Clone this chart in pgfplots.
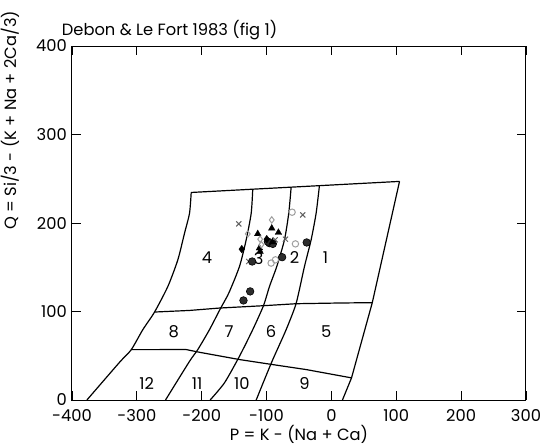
\documentclass[border=0pt]{standalone}
\usepackage{pgfplots}
\pgfplotsset{compat=1.18}
\usepackage{fontspec}
\setmainfont{Poppins}
\begin{document}
\begin{tikzpicture}[font=\fontsize{16.3}{19}\selectfont]
\path[use as bounding box] (-72pt,-45pt) rectangle (469pt,400pt);
\begin{axis}[
  scale only axis, width=454pt, height=354pt,
  xmin=-400, xmax=300, ymin=0, ymax=400,
  xtick={-400,-300,...,300}, ytick={0,100,...,400},
  tick align=inside, major tick length=9pt,
  tick style={black, line width=0.9pt},
  axis line style={line width=1pt},
  /pgf/number format/assume math mode=true,
  xticklabel style={yshift=-9pt, inner sep=0pt},
  yticklabel style={xshift=-5pt, inner sep=0pt},
  xlabel={P = K - (Na + Ca)},
  ylabel={Q = Si/3 - (K + Na + 2Ca/3)},
  xlabel style={at={(axis description cs:0.5,-0.098)}, anchor=center, inner sep=0pt},
  ylabel style={at={(axis description cs:-0.135,0.79)}, anchor=center, inner sep=0pt},
  clip=false,
]
% outer boundary
\addplot[black, line width=1.2pt] coordinates {(-216.2,234.5) (105,247)};
\addplot[black, line width=1.2pt] coordinates {(105,247) (63,110) (31,25) (17,0)};
\addplot[black, line width=1.2pt, smooth, tension=0.4] coordinates {(-216.2,234.5) (-218.8,211) (-226.5,188.5) (-236.8,158.4) (-252.2,128.3) (-272.7,99.4) (-290.8,79.5) (-308.6,56.9) (-326.7,42.6) (-377,0)};
% horizontal divisions
\addplot[black, line width=1.2pt] coordinates {(-272.7,99.4) (-218.8,101.2) (-172.6,103.9) (-105.9,106.5) (-54.4,108.8) (12.3,109.6) (63,110)};
\addplot[black, line width=1.2pt] coordinates {(-308.6,56.9) (-224,57) (-204,54) (-141.8,45.7) (-90.4,40) (-39,34.4) (31,25)};
% vertical curves
\addplot[black, line width=1.2pt, smooth, tension=0.4] coordinates {(-121.3,238.2) (-123.7,211) (-131.4,181) (-141.8,150.8) (-158.2,120.9) (-171.5,102.8) (-188,79.5) (-206,57) (-218.8,43.7) (-255.8,0)};
\addplot[black, line width=1.2pt, smooth, tension=0.4] coordinates {(-62.1,240.5) (-65.8,211) (-72.4,181) (-84.3,150.8) (-95.5,128.3) (-104.8,106.5) (-121.3,79.5) (-141.8,49.4) (-164.9,19.4) (-187,0)};
\addplot[black, line width=1.2pt, smooth, tension=0.4] coordinates {(-18.5,242.2) (-23.6,211) (-31.3,181) (-41.6,150.8) (-54.4,109.2) (-69.8,79.5) (-90.4,45.7) (-103.2,23.1) (-116,0)};
% field labels
\node at (axis cs:-9,161) {1};
\node at (axis cs:-57,161) {2};
\node at (axis cs:-112,160) {3};
\node at (axis cs:-192,161) {4};
\node at (axis cs:-8,77.6) {5};
\node at (axis cs:-93,77.6) {6};
\node at (axis cs:-158,77.6) {7};
\node at (axis cs:-243,77.6) {8};
\node at (axis cs:-41.6,18.6) {9};
\node at (axis cs:-138,18.6) {10};
\node at (axis cs:-207,18.6) {11};
\node at (axis cs:-285,18.6) {12};
% data
\addplot[only marks, mark=o, gray!75, mark size=3.2pt, mark options={line width=1pt}] coordinates {(-60.6,212.2) (-55.5,176.4) (-93,154.7) (-86.3,158.4)};
\addplot[only marks, mark=x, gray!75!black, mark size=3.6pt, mark options={line width=1pt}] coordinates {(-142.8,199) (-44.2,209.1) (-70.9,181.7) (-86.7,181) (-127.5,156.5)};
\addplot[only marks, mark=*, black, mark size=3.8pt, mark options={fill=gray!35!black, line width=0.6pt}] coordinates {(-38.1,178) (-76,161.4) (-122.2,156.5) (-125.3,122.7) (-135.6,112.5) (-95.5,177.2) (-90.4,176.4) (-98,179)};
\addplot[only marks, mark=diamond*, black, mark size=3.8pt] coordinates {(-138.2,170.5) (-99.7,181.7)};
\addplot[only marks, mark=triangle*, black, mark size=3.8pt] coordinates {(-92,194) (-81.7,189.2) (-113.6,187.7) (-111,171.6) (-110,167.8) (-91,178.5)};
\addplot[only marks, mark=diamond, gray!75, mark size=3.2pt, mark options={line width=1pt}] coordinates {(-92,203.5) (-129,187.7) (-109.9,181.7) (-108,175.5)};
\node[anchor=west] at (axis description cs:-0.03,1.045) {Debon \& Le Fort 1983 (fig 1)};
\end{axis}
\end{tikzpicture}
\end{document}
